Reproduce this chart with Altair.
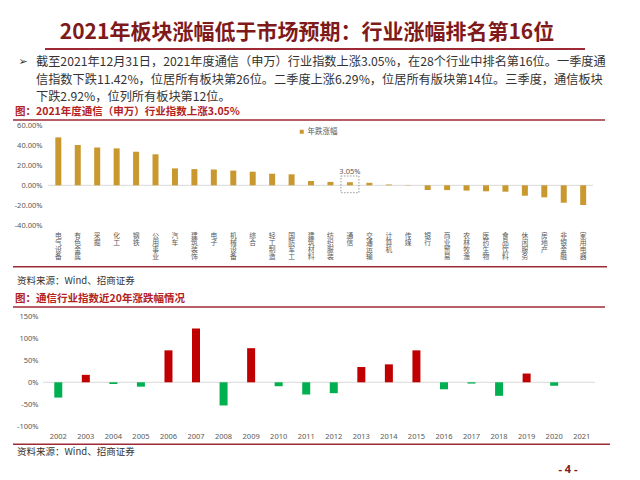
import altair as alt
import pandas as pd

# ---------------- data ----------------
title_text = "2021年板块涨幅低于市场预期：行业涨幅排名第16位"
body_lines = [
    "截至2021年12月31日，2021年度通信（申万）行业指数上涨3.05%，在28个行业中排名第16位。一季度通",
    "信指数下跌11.42%，位居所有板块第26位。二季度上涨6.29%，位居所有版块第14位。三季度，通信板块",
    "下跌2.92%，位列所有板块第12位。",
]
caption1 = "图：2021年度通信（申万）行业指数上涨3.05%"
caption2 = "图：通信行业指数近20年涨跌幅情况"
source_text = "资料来源：Wind、招商证券"
page_text = "- 4 -"
legend_name = "年跌涨幅"

industries = ["电气设备", "有色金属", "采掘", "化工", "钢铁", "公用事业", "汽车", "建筑装饰",
              "电子", "机械设备", "综合", "轻工制造", "国防军工", "建筑材料", "纺织服装", "通信",
              "交通运输", "计算机", "传媒", "银行", "商业贸易", "农林牧渔", "医药生物", "食品饮料",
              "休闲服务", "房地产", "非银金融", "家用电器"]
changes_2021 = [47.9, 40.3, 37.8, 36.9, 33.6, 31.0, 16.9, 16.2, 15.8, 14.7, 13.6, 11.6, 11.0, 4.3,
                3.4, 3.05, 2.5, 0.8, -0.3, -4.7, -4.8, -5.3, -6.0, -6.4, -10.4, -12.0, -17.4, -19.7]
highlight = "通信"
y1_ticks = [-40, -20, 0, 20, 40, 60]

years = [str(y) for y in range(2002, 2022)]
yearly_changes = [-35, 17, -4, -10, 73, 123, -53, 78, -9, -28, -25, 35, 41, 73, -16, -3, -31, 20, -8, None]
y2_ticks = [-100, -50, 0, 50, 100, 150]

# ---------------- styles ----------------
GOLD = "#C9982F"
RED = "#C00000"
GREEN = "#00B050"
TITLE_RED = "#7F1A1A"
CAP_RED = "#B22222"
LINE = "#9E2A35"
GRAY = "#595959"
CJK = "Noto Sans CJK SC"
H = 470


def one():
    return pd.DataFrame({"k": [0]})


def text_layer(txt, x, y, size, color, weight="normal", align="left", font=CJK, baseline="middle"):
    return alt.Chart(pd.DataFrame({"t": [txt]})).mark_text(
        align=align, baseline=baseline, fontSize=size, color=color, fontWeight=weight, font=font
    ).encode(x=alt.value(x), y=alt.value(y), text="t:N")


def hline(x1, x2, y, color=LINE, w=1.5):
    return alt.Chart(one()).mark_rule(color=color, strokeWidth=w).encode(
        x=alt.value(x1), x2=alt.value(x2), y=alt.value(y))


decor = [
    text_layer(title_text, 299, 25, 21, TITLE_RED, weight="bold", align="center"),
    hline(37, 577, 41, w=2),
    text_layer("➢", 15, 54, 11, "#333333", font="DejaVu Sans", align="center"),
    text_layer(body_lines[0], 28, 54, 12.2, "#333333"),
    text_layer(body_lines[1], 28, 72.3, 12.2, "#333333"),
    text_layer(body_lines[2], 28, 89, 12.2, "#333333"),
    text_layer(caption1, 7, 103.7, 10.5, CAP_RED, weight="bold"),
    hline(5, 597, 112),
    hline(5, 599, 258.7),
    text_layer(source_text, 9, 273, 9.5, "#333333"),
    text_layer(caption2, 7, 291, 10.5, CAP_RED, weight="bold"),
    hline(5, 597, 299),
    hline(5, 602, 436.3),
    text_layer(source_text, 9, 443.7, 9.5, "#333333"),
    text_layer(page_text, 560, 462, 11, TITLE_RED, weight="bold", align="center", font="Noto Sans"),
]

# ---------------- chart 1 ----------------
df1 = pd.DataFrame({"cat": industries, "v": changes_2021, "s": legend_name})
x1 = alt.X("cat:N", sort=industries,
           scale=alt.Scale(domain=industries, range=[40.6, 584.9], paddingInner=0, paddingOuter=0),
           axis=None)
y1 = alt.Y("v:Q",
           scale=alt.Scale(domain=[-40, 60], range=[217.3, 117.3], nice=False, zero=False),
           axis=alt.Axis(values=y1_ticks, labelExpr="datum.value + '.00%'", orient="left",
                         offset=-36, labelPadding=2, ticks=False, domain=False, grid=False,
                         labelFontSize=7.5, labelColor=GRAY, labelFont="Noto Sans",
                         labelOverlap=False, title=None))

zero1 = alt.Chart(one()).mark_rule(color="#D9D9D9", strokeWidth=1).encode(
    y=alt.datum(0), x=alt.value(40), x2=alt.value(585))
bars1 = alt.Chart(df1).mark_bar(size=6).encode(
    x=x1, y=y1,
    color=alt.Color("s:N", scale=alt.Scale(range=[GOLD]),
                    legend=alt.Legend(orient="none", legendX=290, legendY=120, title=None,
                                      symbolType="square", symbolSize=16, symbolStrokeWidth=0,
                                      labelFontSize=7.5, labelColor=GRAY, labelFont=CJK,
                                      labelOffset=2, padding=0)))
hl = alt.Chart(df1).transform_filter(f"datum.cat == '{highlight}'")
box1 = hl.mark_bar(size=18, fill="transparent", stroke="#7F7F7F", strokeWidth=0.8,
                   strokeDash=[1.5, 1.5]).encode(x=x1, y=alt.value(168), y2=alt.value(184.7))
ann1 = hl.transform_calculate(lbl="format(datum.v, '.2f') + '%'").mark_text(
    fontSize=7.5, color=GRAY, font="Noto Sans", baseline="middle").encode(
    x=x1, y=alt.value(164), text="lbl:N")

c1 = alt.layer(zero1, bars1, box1, ann1)

# vertical (stacked-character) category labels
char_rows = [{"cat": c, "ch": ch, "i": i} for c in industries for i, ch in enumerate(c)]
df_chars = pd.DataFrame(char_rows)
labels1 = alt.Chart(df_chars).mark_text(
    baseline="middle", fontSize=6.8, color=GRAY, font=CJK).encode(
    x=x1,
    y=alt.Y("i:O", scale=alt.Scale(domain=[0, 1, 2, 3], range=[227.5, 249.0], padding=0), axis=None),
    text="ch:N")

# ---------------- chart 2 ----------------
df2 = pd.DataFrame({"year": years, "v": yearly_changes})
x2 = alt.X("year:N", sort=years,
           scale=alt.Scale(domain=years, range=[36.5, 587.5], paddingInner=0, paddingOuter=0),
           axis=alt.Axis(orient="bottom", offset=-(H - 424), labelPadding=0, ticks=False, domain=False,
                         labelAngle=0, labelFontSize=7.5, labelColor=GRAY, labelFont="Noto Sans",
                         labelOverlap=False, title=None))
y2 = alt.Y("v:Q",
           scale=alt.Scale(domain=[-100, 150], range=[418, 308.7], nice=False, zero=False),
           axis=alt.Axis(values=y2_ticks, labelExpr="datum.value + '%'", orient="left",
                         offset=-32, labelPadding=2, ticks=False, domain=False, grid=False,
                         labelFontSize=7.5, labelColor=GRAY, labelFont="Noto Sans",
                         labelOverlap=False, title=None))
zero2 = alt.Chart(one()).mark_rule(color="#D9D9D9", strokeWidth=1).encode(
    y=alt.datum(0), x=alt.value(35), x2=alt.value(587))
bars2 = alt.Chart(df2).mark_bar(size=8).encode(
    x=x2, y=y2,
    color=alt.condition("datum.v > 0", alt.value(RED), alt.value(GREEN)))
c2 = alt.layer(zero2, bars2)

chart = alt.layer(*decor, c1, labels1, c2).resolve_scale(
    x="independent", y="independent"
).properties(
    width=624, height=H, padding=0, autosize="none", background="white"
).configure_view(strokeWidth=0)

chart.save("out.html", embed_options={"renderer": "svg", "actions": False})
